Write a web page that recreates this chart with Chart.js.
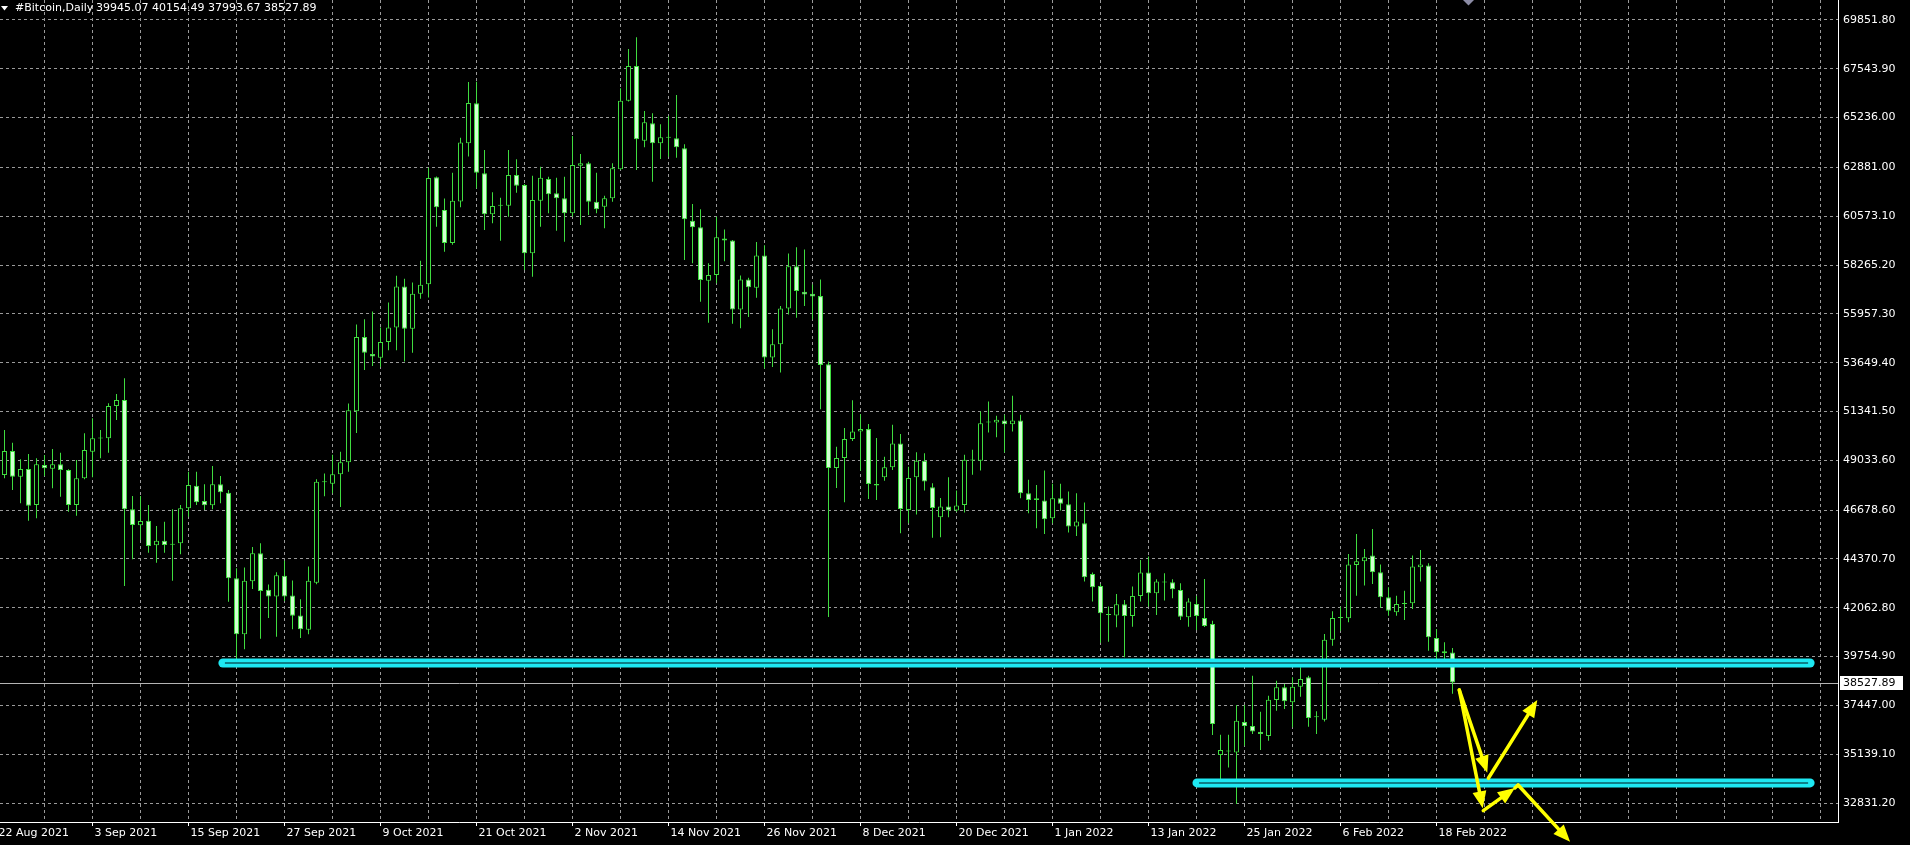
<!DOCTYPE html>
<html>
<head>
<meta charset="utf-8">
<title>#Bitcoin,Daily</title>
<script src="https://cdn.jsdelivr.net/npm/chart.js@4.4.0/dist/chart.umd.min.js"></script>
<style>
  html, body { margin: 0; padding: 0; background: #000; overflow: hidden; }
</style>
</head>
<body>
<canvas id="btc" width="1910" height="845"></canvas>
<script>
// daily bars, index 0 = 22 Aug 2021, first drawn bar is 23 Aug 2021
const firstBar = 1;

const opens = [
  48339, 49473, 48260, 48622, 46920, 48811, 48638, 48843, 48575, 46920,
  48181, 49442, 50060, 50072, 51601, 51885, 46715, 45959, 46179, 45013,
  45234, 45040, 45108, 46763, 47834, 47109, 46904, 47897, 47503, 43453,
  40813, 43321, 44637, 42912, 42591, 43570, 42645, 41702, 41026, 43249,
  47998, 47927, 48371, 48941, 51359, 54863, 54063, 53885, 54632, 55308,
  57246, 55254, 56908, 57353, 62422, 60874, 59309, 61266, 64022, 65912,
  62602, 60664, 61073, 61073, 62523, 62051, 58820, 61310, 62334, 61657,
  61420, 60711, 62965, 63075, 61263, 61026, 61420, 62791, 66038, 67677,
  64147, 64966, 64021, 64289, 64257, 63784, 60364, 60049, 57527, 57795,
  59517, 59423, 56169, 57584, 57191, 58716, 53890, 54518, 56216, 58213,
  57002, 56908, 56798, 53575, 48671, 49142, 50038, 50400, 50510, 47916,
  48230, 48702, 49834, 46690, 48230, 49016, 47759, 46344, 46847, 46658,
  46926, 49024, 49008, 50821, 50821, 50916, 50743, 50916, 47478, 47163,
  47131, 46295, 47242, 46958, 45901, 46059, 43662, 43094, 41722, 41691,
  42227, 41675, 42621, 43725, 42747, 43252, 43268, 42905, 41612, 42243,
  41579, 41295, 35098, 35271, 35224, 36659, 36470, 36202, 35997, 37700,
  38299, 37589, 38331, 38772, 36880, 36769, 40554, 41579, 41563, 44087,
  44260, 44528, 43740, 42557, 41847, 42241, 42273, 43976, 44055, 40633,
  40002, 39945.07
];
const highs = [
  50466, 49867, 49079, 49331, 49127, 49284, 49568, 49395, 48607, 49048,
  50309, 51018, 50466, 51727, 52168, 52909, 47346, 47346, 46920, 45927,
  46132, 46715, 46920, 48496, 48496, 47897, 48764, 48291, 47629, 43926,
  43961, 44939, 45117, 43161, 43747, 44281, 43356, 42467, 44014, 48140,
  48407, 49296, 49439, 51715, 55450, 55699, 56072, 55308, 56499, 57762,
  57620, 57442, 58473, 62866, 62450, 61408, 62635, 64289, 66921, 66936,
  63705, 61704, 61452, 63705, 63264, 62100, 62492, 62917, 62445, 62397,
  62445, 64367, 63516, 63154, 62634, 61546, 63075, 66621, 68481, 69032,
  65549, 65439, 64919, 65313, 66306, 63973, 61152, 60900, 58347, 60553,
  59942, 59450, 57772, 57662, 59360, 59203, 55226, 56326, 58810, 59109,
  58999, 57348, 57584, 53701, 49677, 50557, 51877, 51217, 50746, 50085,
  49205, 50714, 50274, 48733, 49409, 49362, 47947, 47256, 48230, 47602,
  49292, 49528, 51342, 51815, 51137, 51184, 52083, 51184, 48109, 47872,
  48551, 47920, 47920, 47557, 47478, 47037, 43725, 43189, 42116, 42716,
  42432, 43063, 44324, 44482, 43410, 43693, 43410, 43220, 42511, 42621,
  43424, 41453, 36060, 36060, 37463, 37463, 38851, 37148, 37905, 38614,
  38457, 38772, 39245, 38851, 37164, 40822, 41895, 42115, 44607, 45553,
  44844, 45790, 44102, 43030, 42636, 42872, 44528, 44796, 44165, 41059,
  40428, 40154.49
];
const lows = [
  48181, 47629, 46999, 46179, 46290, 48291, 47708, 47314, 46603, 46416,
  48134, 48228, 49127, 49395, 50939, 43091, 44351, 45265, 44667, 44194,
  44667, 43343, 44588, 46369, 46920, 46684, 46715, 46999, 42350, 39600,
  40100, 42947, 40600, 41578, 40688, 42378, 41044, 40635, 40813, 43178,
  47340, 47482, 46824, 48496, 50328, 53298, 53494, 53440, 54241, 54241,
  53707, 54116, 56677, 56730, 60074, 58900, 59220, 60999, 63400, 61893,
  59923, 60238, 59419, 60553, 61688, 58032, 57717, 60081, 60711, 59891,
  59371, 60553, 60159, 60632, 60711, 60002, 61263, 62760, 66000, 62760,
  63831, 62208, 63280, 63390, 63343, 58505, 58347, 56535, 55542, 57401,
  58448, 55493, 55273, 55807, 56719, 53371, 53449, 53182, 55933, 55776,
  56326, 55697, 51453, 41628, 47727, 47051, 49950, 48545, 47209, 47161,
  48073, 48576, 45589, 46061, 46470, 47602, 45369, 45401, 46344, 46600,
  46564, 48346, 48551, 50348, 50128, 49402, 50396, 47242, 46532, 45822,
  45554, 46059, 46658, 45617, 45460, 43299, 42353, 40413, 40461, 41139,
  39719, 41170, 42353, 42116, 41722, 42400, 42511, 41486, 41170, 41012,
  41150, 36044, 33883, 34514, 32779, 35539, 36091, 35334, 35776, 37195,
  37274, 36407, 37857, 36438, 36091, 36690, 40270, 40980, 41374, 42636,
  43109, 43188, 42052, 41690, 41690, 41485, 42005, 43298, 40034, 39561,
  39639, 37993.67
];
const closes = [
  49473, 48260, 48622, 46889, 48843, 48654, 48843, 48575, 46920, 48181,
  49521, 50072, 50080, 51601, 51885, 46715, 45975, 46164, 44982, 45234,
  45029, 45055, 46763, 47866, 47046, 46904, 47897, 47519, 43453, 40805,
  43338, 44637, 42858, 42591, 43605, 42591, 41684, 41044, 43338, 48016,
  48020, 48371, 48941, 51395, 54863, 54116, 53938, 54632, 55308, 57246,
  55254, 56908, 57335, 62386, 60999, 59309, 61301, 64058, 65925, 62634,
  60664, 61058, 61080, 62523, 62019, 58820, 61341, 62397, 61609, 61420,
  60711, 62996, 63075, 61263, 60900, 61420, 62839, 66038, 67677, 64210,
  65013, 64021, 64304, 64300, 63831, 60427, 60049, 57559, 57795, 59576,
  59423, 56169, 57584, 57222, 58716, 53890, 54518, 56216, 58213, 57034,
  56876, 56782, 53544, 48671, 49142, 50038, 50400, 50510, 47916, 47837,
  48702, 49834, 46737, 48199, 49016, 48026, 46784, 46847, 46658, 46894,
  49055, 49040, 50790, 50840, 50948, 50743, 50916, 47478, 47163, 47242,
  46248, 47242, 46974, 45901, 46138, 43504, 43031, 41801, 41740, 42227,
  41675, 42621, 43725, 42747, 43299, 43260, 42936, 41643, 42353, 41675,
  41201, 36564, 35334, 35280, 36722, 36470, 36217, 36091, 37716, 38299,
  37637, 38331, 38693, 36848, 36890, 40554, 41579, 41590, 44102, 44260,
  44449, 43740, 42557, 41926, 42241, 42250, 44008, 44102, 40664, 39955,
  39908, 38527.89
];

// time axis: one label every 12 bars starting at bar 0
const dateLabels = [
  '22 Aug 2021', '3 Sep 2021', '15 Sep 2021', '27 Sep 2021', '9 Oct 2021',
  '21 Oct 2021', '2 Nov 2021', '14 Nov 2021', '26 Nov 2021', '8 Dec 2021',
  '20 Dec 2021', '1 Jan 2022', '13 Jan 2022', '25 Jan 2022', '6 Feb 2022',
  '18 Feb 2022'
];
const priceTicks = [
  69851.80, 67543.90, 65236.00, 62881.00, 60573.10, 58265.20, 55957.30,
  53649.40, 51341.50, 49033.60, 46678.60, 44370.70, 42062.80, 39754.90,
  37447.00, 35139.10, 32831.20
];

// drawn objects (bar index / price)
const levelPrices = [39450, 33780];
const levelFrom = [28.3, 150.06];
const levelTo = [226.7, 226.7];

const arrowFromX = [182.85, 186.48, 182.85, 185.85, 189.8, 190.2];
const arrowFromY = [38174, 33999, 38174, 32468, 33542, 33683];
const arrowToX = [186.35, 192.6, 185.78, 189.8, 190.2, 196.7];
const arrowToY = [34264, 37701, 32581, 33542, 33683, 31002];
const arrowHead = [true, true, true, true, false, true];

const GREEN = '#3fdc3f';
const BEAR_FILL = '#d2ffd2';
const GRID = '#9a9a9a';

Chart.defaults.font.family = '"DejaVu Sans", sans-serif';
Chart.defaults.font.size = 11;
Chart.defaults.color = '#ffffff';

const bodyData = opens.map((o, k) => ({ x: firstBar + k, y: [o, closes[k]] }));
const wickData = lows.map((l, k) => ({ x: firstBar + k, y: [l, highs[k]] }));
const bodyFill = opens.map((o, k) => closes[k] >= o ? '#000000' : BEAR_FILL);

const last = opens.length - 1;

const overlay = {
  id: 'overlay',
  beforeDatasetsDraw(chart) {
    const { ctx, chartArea, scales } = chart;
    const y = Math.round(scales.y.getPixelForValue(closes[last])) + 0.5;
    ctx.save();
    ctx.strokeStyle = '#b4b4b4';
    ctx.lineWidth = 1;
    ctx.beginPath();
    ctx.moveTo(chartArea.left, y);
    ctx.lineTo(chartArea.right, y);
    ctx.stroke();
    ctx.restore();
  },
  afterDraw(chart) {
    const { ctx, chartArea, scales } = chart;
    const X = v => scales.x.getPixelForValue(v);
    const Y = v => scales.y.getPixelForValue(v);
    ctx.save();

    // horizontal levels
    levelPrices.forEach((p, k) => {
      const y = Y(p), x1 = X(levelFrom[k]), x2 = X(levelTo[k]);
      ctx.lineCap = 'round';
      ctx.strokeStyle = '#1ee8f2';
      ctx.lineWidth = 9;
      ctx.beginPath(); ctx.moveTo(x1, y); ctx.lineTo(x2, y); ctx.stroke();
      ctx.lineCap = 'butt';
      ctx.strokeStyle = '#0e7f88';
      ctx.lineWidth = 2;
      ctx.beginPath(); ctx.moveTo(x1 + 2, y); ctx.lineTo(x2 - 2, y); ctx.stroke();
    });

    // arrows
    ctx.strokeStyle = '#ffff00';
    ctx.fillStyle = '#ffff00';
    ctx.lineWidth = 3.5;
    ctx.lineCap = 'round';
    arrowFromX.forEach((fx, k) => {
      const x1 = X(fx), y1 = Y(arrowFromY[k]);
      const x2 = X(arrowToX[k]), y2 = Y(arrowToY[k]);
      const a = Math.atan2(y2 - y1, x2 - x1);
      const hl = arrowHead[k] ? 17 : 0;
      const hw = 7;
      ctx.beginPath();
      ctx.moveTo(x1, y1);
      ctx.lineTo(x2 - Math.cos(a) * hl * 0.7, y2 - Math.sin(a) * hl * 0.7);
      ctx.stroke();
      if (arrowHead[k]) {
        ctx.beginPath();
        ctx.moveTo(x2, y2);
        ctx.lineTo(x2 - hl * Math.cos(a) + hw * Math.sin(a), y2 - hl * Math.sin(a) - hw * Math.cos(a));
        ctx.lineTo(x2 - hl * Math.cos(a) - hw * Math.sin(a), y2 - hl * Math.sin(a) + hw * Math.cos(a));
        ctx.closePath();
        ctx.fill();
      }
    });

    // current price tag
    const py = Math.round(Y(closes[last]));
    ctx.fillStyle = '#ffffff';
    ctx.fillRect(chartArea.right + 2, py - 7, 63, 14);
    ctx.fillStyle = '#000000';
    ctx.font = '11px "DejaVu Sans"';
    ctx.textBaseline = 'middle';
    ctx.textAlign = 'left';
    ctx.fillText(closes[last].toFixed(2), chartArea.right + 5, py + 0.5);

    // header
    ctx.fillStyle = '#ffffff';
    ctx.beginPath();
    ctx.moveTo(1, 6); ctx.lineTo(8, 6); ctx.lineTo(4.5, 10.5); ctx.closePath();
    ctx.fill();
    ctx.fillText('#Bitcoin,Daily', 15, 8.5);
    const ohlc = [opens[last], highs[last], lows[last], closes[last]].map(v => v.toFixed(2)).join(' ');
    ctx.fillText(ohlc, 96, 8.5);

    // chart shift marker
    ctx.fillStyle = '#8c8ca6';
    ctx.beginPath();
    ctx.moveTo(1463, 0); ctx.lineTo(1474, 0); ctx.lineTo(1468.5, 5.5); ctx.closePath();
    ctx.fill();
    ctx.restore();
  }
};

new Chart(document.getElementById('btc'), {
  type: 'bar',
  data: {
    datasets: [
      {
        label: 'body',
        data: bodyData,
        grouped: false,
        maxBarThickness: 5,
        minBarLength: 1,
        backgroundColor: bodyFill,
        borderColor: GREEN,
        borderWidth: 1,
        borderSkipped: false,
        order: 0
      },
      {
        label: 'wick',
        data: wickData,
        grouped: false,
        maxBarThickness: 1,
        backgroundColor: GREEN,
        borderWidth: 0,
        order: 1
      }
    ]
  },
  options: {
    responsive: false,
    animation: false,
    events: [],
    layout: { padding: 0 },
    plugins: { legend: { display: false }, tooltip: { enabled: false } },
    scales: {
      x: {
        type: 'linear',
        offset: false,
        min: 0.4375,
        max: 230.1875,
        bounds: 'data',
        grid: {
          offset: false,
          color: GRID,
          drawTicks: true,
          tickLength: 4,
          tickColor: c => (c.tick && c.tick.value % 12 === 0 && c.tick.value <= 180) ? '#ffffff' : 'rgba(0,0,0,0)'
        },
        border: { display: true, color: '#ffffff', width: 1, dash: [3, 3] },
        ticks: {
          autoSkip: false,
          maxRotation: 0,
          align: 'start',
          labelOffset: 2,
          padding: 1,
          color: '#ffffff',
          callback: v => (v % 12 === 0 && v / 12 < dateLabels.length) ? dateLabels[v / 12] : ''
        },
        afterBuildTicks: s => {
          const t = [];
          for (let i = 0; i <= 228; i += 6) t.push({ value: i });
          s.ticks = t;
        },
        afterFit: s => { s.height = 23; s.paddingLeft = 0; s.paddingRight = 0; }
      },
      y: {
        type: 'linear',
        position: 'right',
        min: 31932.9,
        max: 70797.4,
        bounds: 'data',
        grid: { color: GRID, drawTicks: false, tickLength: 0 },
        border: { display: true, color: '#ffffff', width: 1, dash: [3, 3] },
        ticks: {
          autoSkip: false,
          padding: 5,
          color: '#ffffff',
          callback: v => v.toFixed(2)
        },
        afterBuildTicks: s => { s.ticks = priceTicks.map(v => ({ value: v })); },
        afterFit: s => { s.width = 72; s.paddingTop = 0; s.paddingBottom = 0; }
      }
    }
  },
  plugins: [overlay]
});
</script>
</body>
</html>
